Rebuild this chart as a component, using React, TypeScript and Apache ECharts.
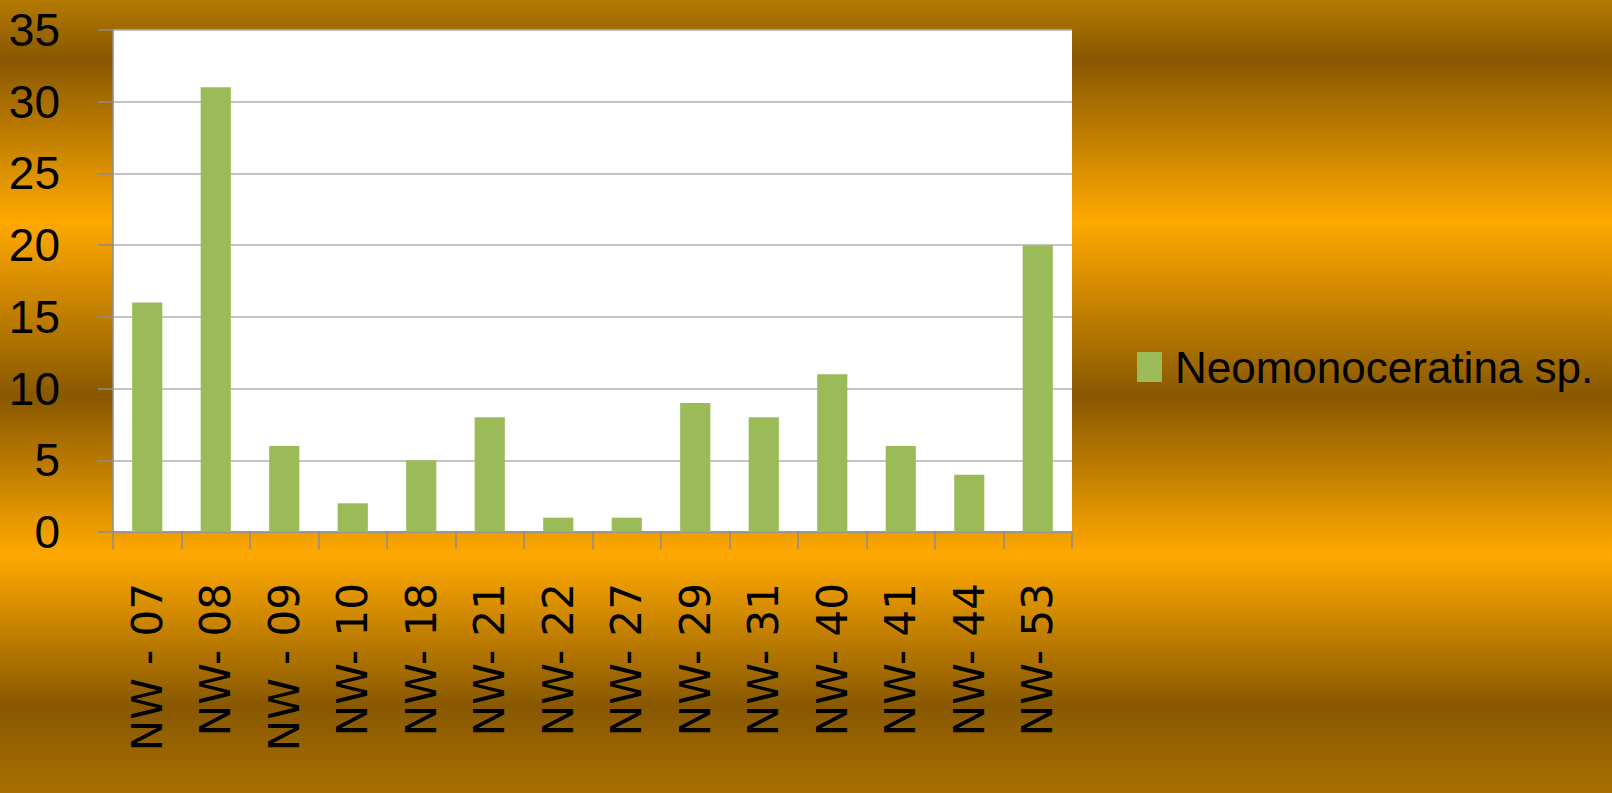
import React, { useEffect, useRef } from "react";
import * as echarts from "echarts";

const categories = [
  "NW - 07", "NW- 08", "NW - 09", "NW- 10", "NW- 18", "NW- 21", "NW- 22",
  "NW- 27", "NW- 29", "NW- 31", "NW- 40", "NW- 41", "NW- 44", "NW- 53",
];
const seriesName = "Neomonoceratina sp.";
const values = [16, 31, 6, 2, 5, 8, 1, 1, 9, 8, 11, 6, 4, 20];
const yMin = 0;
const yMax = 35;
const yInterval = 5;

const narrow = '"Liberation Sans", Arial, sans-serif';

export default function App() {
  const ref = useRef<HTMLDivElement>(null);
  useEffect(() => {
    if (!ref.current) return;
    const chart = echarts.init(ref.current, undefined, { renderer: "svg" });
    chart.setOption({
      animation: false,
      backgroundColor: {
        type: "linear",
        x: 0, y: 0, x2: 0, y2: 1,
        colorStops: [
          { offset: 0, color: "#B47A00" },
          { offset: 0.075, color: "#885800" },
          { offset: 0.28, color: "#FFA900" },
          { offset: 0.5, color: "#885800" },
          { offset: 0.7, color: "#FFA900" },
          { offset: 0.89, color: "#885800" },
          { offset: 1, color: "#A87000" },
        ],
      },
      grid: {
        left: 113, right: 540, top: 30, bottom: 261,
        show: true, backgroundColor: "#ffffff", borderWidth: 0,
      },
      legend: {
        left: 1132, top: 340, orient: "vertical",
        itemWidth: 25, itemHeight: 30, icon: "rect",
        data: [seriesName],
        textStyle: { fontSize: 44, fontFamily: narrow, color: "#000", padding: [0, 0, 0, 8] },
      },
      xAxis: {
        type: "category",
        data: categories,
        axisLine: { show: true, lineStyle: { color: "#8C8C8C", width: 1.5 } },
        axisTick: { show: true, length: 17, lineStyle: { color: "#8C8C8C", width: 1.5 } },
        axisLabel: {
          interval: 0, rotate: 90, margin: 51,
          fontSize: 42, fontFamily: '"DejaVu Sans", Verdana, sans-serif', color: "#000",
        },
      },
      yAxis: {
        type: "value",
        min: yMin, max: yMax, interval: yInterval,
        axisLine: { show: true, lineStyle: { color: "#8C8C8C", width: 1.5 } },
        axisTick: { show: true, length: 15, lineStyle: { color: "#8C8C8C", width: 1.5 } },
        splitLine: { show: true, lineStyle: { color: "#B0B0B0", width: 1.5 } },
        axisLabel: { fontSize: 46, fontFamily: narrow, color: "#000", margin: 53 },
      },
      series: [
        {
          name: seriesName,
          type: "bar",
          data: values,
          barWidth: "44%",
          itemStyle: { color: "#9BBB59" },
        },
      ],
    });
    return () => chart.dispose();
  }, []);
  return (
    <div
      ref={ref}
      style={{ position: "fixed", left: 0, top: 0, width: 1612, height: 793 }}
    />
  );
}
